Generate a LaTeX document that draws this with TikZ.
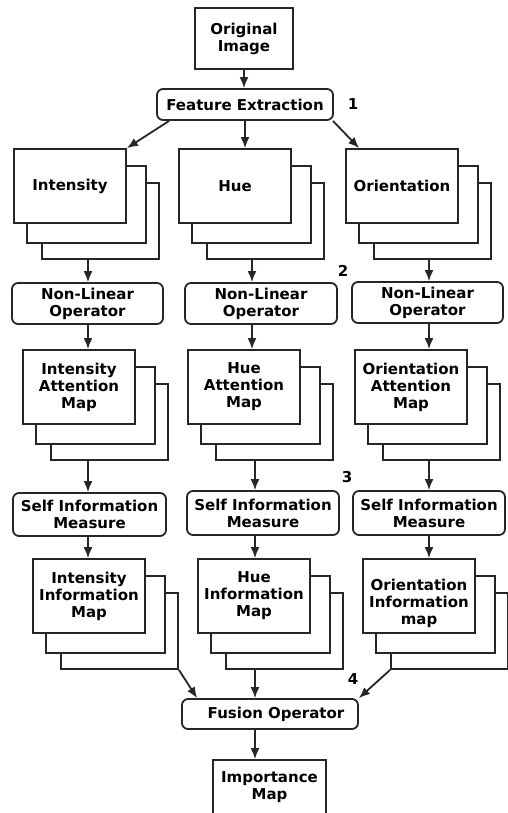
\documentclass[tikz,border=0pt]{standalone}
\usepackage{fontspec}
\setmainfont{DejaVu Sans}
\usetikzlibrary{arrows.meta}
\definecolor{ink}{HTML}{262626}
\tikzset{
  sheet/.style={draw=ink, fill=white, line width=1.8pt, inner sep=0pt, align=center,
    font=\fontsize{15}{17}\selectfont\bfseries},
  opbox/.style={sheet, rounded corners=6pt},
  arr/.style={draw=ink, line width=1.8pt, -{Latex[length=11pt,width=9pt]}},
  stepnum/.style={font=\fontsize{15}{17}\selectfont\bfseries, inner sep=0pt}
}
% three stacked sheets; the front one carries the text and is named #1
\newcommand\sheetstack[4]{%
  \begin{scope}[shift={(#2,#3)}]
    \node[sheet, minimum width=117pt, minimum height=76pt] (#1-3) at (86.5,72) {};
    \node[sheet, minimum width=119pt, minimum height=77pt] (#1-2) at (72.5,55.5) {};
    \node[sheet, minimum width=112pt, minimum height=74pt] (#1) at (56,37) {#4};
  \end{scope}}
\begin{document}
\begin{tikzpicture}[x=1pt, y=-1pt]
  \useasboundingbox (0,0) rectangle (508,813);

  % source image and feature extraction
  \node[sheet, minimum width=98pt, minimum height=61pt] (orig) at (244,38.5) {Original\\Image};
  \node[opbox, minimum width=176pt, minimum height=31pt] (fe) at (245,104.5) {Feature Extraction};
  \node[stepnum] (n1) at (353,104) {1};

  % feature channels
  \sheetstack{int}{14}{149}{Intensity}
  \sheetstack{hue}{179}{149}{Hue}
  \sheetstack{ori}{346}{149}{Orientation}

  % non-linear operators
  \node[opbox, minimum width=151pt, minimum height=41pt] (nl1) at (87.5,303.5) {Non-Linear\\Operator};
  \node[opbox, minimum width=152pt, minimum height=41pt] (nl2) at (261,303.5) {Non-Linear\\Operator};
  \node[opbox, minimum width=151pt, minimum height=41pt] (nl3) at (427.5,302.5) {Non-Linear\\Operator};
  \node[stepnum] (n2) at (343,271) {2};

  % attention maps
  \sheetstack{iatt}{23}{350}{Intensity\\Attention\\Map}
  \sheetstack{hatt}{188}{350}{Hue\\Attention\\Map}
  \sheetstack{oatt}{355}{350}{Orientation\\Attention\\Map}
  \node[stepnum] (n3) at (347,477) {3};

  % self information measures
  \node[opbox, minimum width=153pt, minimum height=43pt] (sim1) at (89.5,514.5) {Self Information\\Measure};
  \node[opbox, minimum width=152pt, minimum height=44pt] (sim2) at (263,513) {Self Information\\Measure};
  \node[opbox, minimum width=152pt, minimum height=44pt] (sim3) at (429,513) {Self Information\\Measure};

  % information maps
  \sheetstack{iinf}{33}{559}{Intensity\\Information\\Map}
  \sheetstack{hinf}{198}{559}{Hue\\Information\\Map}
  \sheetstack{oinf}{363}{559}{\rule{0pt}{27pt}Orientation\\Information\\map}
  \node[stepnum] (n4) at (353,679) {4};

  % fusion and result
  \node[opbox, minimum width=176pt, minimum height=30pt] (fu) at (270,714) {\hspace*{12pt}Fusion Operator};
  \node[sheet, minimum width=113pt, minimum height=55pt] (imp) at (269.5,787.5) {Importance\\Map};

  % column guides for the vertical connectors
  \coordinate (ci) at (88,0);
  \coordinate (chu) at (252,0);
  \coordinate (chl) at (255,0);
  \coordinate (co) at (429,0);

  % connectors
  \draw[arr] (orig.south) -- (fe.north -| orig.south);
  \draw[arr] ([xshift=13pt]fe.south west) -- (int.north east);
  \draw[arr] (fe.south) -- (fe.south |- hue.north);
  \draw[arr] ([xshift=-1pt]fe.south east) -- ([xshift=14pt]ori.north west);

  \draw[arr] (int-3.south -| ci) -- (nl1.north -| ci);
  \draw[arr] (hue-3.south -| chu) -- (nl2.north -| chu);
  \draw[arr] (ori-3.south -| co) -- (nl3.north -| co);

  \draw[arr] (nl1.south -| ci) -- (iatt.north -| ci);
  \draw[arr] (nl2.south -| chu) -- (hatt.north -| chu);
  \draw[arr] (nl3.south -| co) -- (oatt.north -| co);

  \draw[arr] (iatt-3.south -| ci) -- (sim1.north -| ci);
  \draw[arr] (hatt-3.south -| chl) -- (sim2.north -| chl);
  \draw[arr] (oatt-3.south -| co) -- (sim3.north -| co);

  \draw[arr] (sim1.south -| ci) -- (iinf.north -| ci);
  \draw[arr] (sim2.south -| chl) -- (hinf.north -| chl);
  \draw[arr] (sim3.south -| co) -- (oinf.north -| co);

  \draw[arr] (iinf-3.south east) -- ([xshift=16pt]fu.north west);
  \draw[arr] (hinf-3.south -| chl) -- (fu.north -| chl);
  \draw[arr] (oinf-3.south west) -- (fu.north east);

  \draw[arr] (fu.south -| chl) -- (imp.north -| chl);
\end{tikzpicture}
\end{document}
